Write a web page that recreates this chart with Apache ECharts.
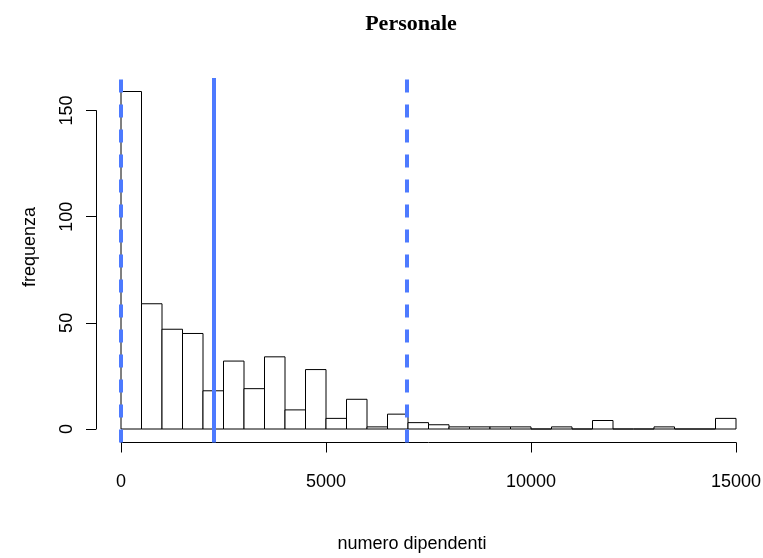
<!DOCTYPE html>
<html>
<head>
<meta charset="utf-8">
<script src="https://cdn.jsdelivr.net/npm/echarts@6/dist/echarts.min.js"></script>
<style>
  html, body { margin: 0; padding: 0; background: #fff; }
  #main { width: 763px; height: 558px; }
</style>
</head>
<body>
<div id="main"></div>
<script>
// histogram breaks (width 500) and counts per bin
var breaks = [0, 500, 1000, 1500, 2000, 2500, 3000, 3500, 4000, 4500, 5000,
  5500, 6000, 6500, 7000, 7500, 8000, 8500, 9000, 9500, 10000,
  10500, 11000, 11500, 12000, 12500, 13000, 13500, 14000, 14500, 15000];
var counts = [159, 59, 47, 45, 18, 32, 19, 34, 9, 28,
  5, 14, 1, 7, 3, 2, 1, 1, 1, 1,
  0, 1, 0, 4, 0, 0, 1, 0, 0, 5];
var xTicks = [0, 5000, 10000, 15000];
var yTicks = [0, 50, 100, 150];
// vertical reference lines: [value, style]
var refLines = [[0, 'dashed'], [2260, 'solid'], [6980, 'dashed']];

var bins = [];
for (var i = 0; i < counts.length; i++) {
  bins.push([breaks[i], breaks[i + 1], counts[i]]);
}

// plot region like R's (4% padding on y)
var plotTop = 78, plotBottom = 442.5, H = 558;
var ymax = Math.max.apply(null, counts);
var yLo = -0.04 * ymax, yHi = ymax * 1.04;
var pxPerUnit = (plotBottom - plotTop) / (yHi - yLo);
var y0px = plotBottom + yLo * pxPerUnit;
var y150px = y0px - yTicks[yTicks.length - 1] * pxPerUnit;

var blue = '#4d7aff';
var font = 'Liberation Sans';

var chart = echarts.init(document.getElementById('main'));
chart.setOption({
  animation: false,
  title: {
    text: 'Personale',
    left: 406, top: 8, textAlign: 'center',
    textStyle: { fontFamily: 'Liberation Serif', fontWeight: 'bold', fontSize: 22, color: '#000' }
  },
  graphic: [
    { type: 'text', x: 412, y: 544, style: { text: 'numero dipendenti', font: '18px ' + font, fill: '#000', textAlign: 'center', textVerticalAlign: 'middle' } },
    { type: 'text', x: 30, y: 247, rotation: Math.PI / 2, style: { text: 'frequenza', font: '18px ' + font, fill: '#000', textAlign: 'center', textVerticalAlign: 'middle' } }
  ],
  grid: [
    { left: 121, right: 27, top: plotTop, bottom: H - plotBottom, outerBoundsMode: 'none', containLabel: false },
    { left: 96, right: 3, top: y150px, bottom: H - y0px, outerBoundsMode: 'none', containLabel: false }
  ],
  xAxis: [
    {
      gridIndex: 0, type: 'value', min: xTicks[0], max: xTicks[xTicks.length - 1], interval: 5000,
      axisLine: { onZero: false, lineStyle: { color: '#000', width: 1 } },
      axisTick: { length: 10, lineStyle: { color: '#000' } },
      axisLabel: { margin: 31, fontFamily: font, fontSize: 18, color: '#000',
        formatter: function (v) { return String(v); } },
      splitLine: { show: false }
    },
    { gridIndex: 1, type: 'value', show: false }
  ],
  yAxis: [
    { gridIndex: 0, type: 'value', min: yLo, max: yHi, show: false, splitLine: { show: false } },
    {
      gridIndex: 1, type: 'value', min: yTicks[0], max: yTicks[yTicks.length - 1], interval: 50,
      axisLine: { show: true, lineStyle: { color: '#000', width: 1 } },
      axisTick: { show: true, length: 10, lineStyle: { color: '#000' } },
      axisLabel: { rotate: 90, margin: 20, fontFamily: font, fontSize: 18, color: '#000' },
      splitLine: { show: false }
    }
  ],
  series: [{
    type: 'custom',
    xAxisIndex: 0, yAxisIndex: 0,
    data: bins,
    renderItem: function (params, api) {
      var p0 = api.coord([api.value(0), api.value(2)]);
      var p1 = api.coord([api.value(1), 0]);
      return {
        type: 'rect',
        shape: { x: p0[0], y: p0[1], width: p1[0] - p0[0], height: p1[1] - p0[1] },
        style: { fill: '#fff', stroke: '#000', lineWidth: 1 }
      };
    },
    markLine: {
      silent: true,
      symbol: 'none',
      label: { show: false },
      data: refLines.map(function (r) {
        return {
          xAxis: r[0],
          lineStyle: { color: blue, width: 4, type: r[1] === 'dashed' ? [13, 12] : 'solid', cap: 'butt' }
        };
      })
    }
  }]
});
</script>
</body>
</html>
